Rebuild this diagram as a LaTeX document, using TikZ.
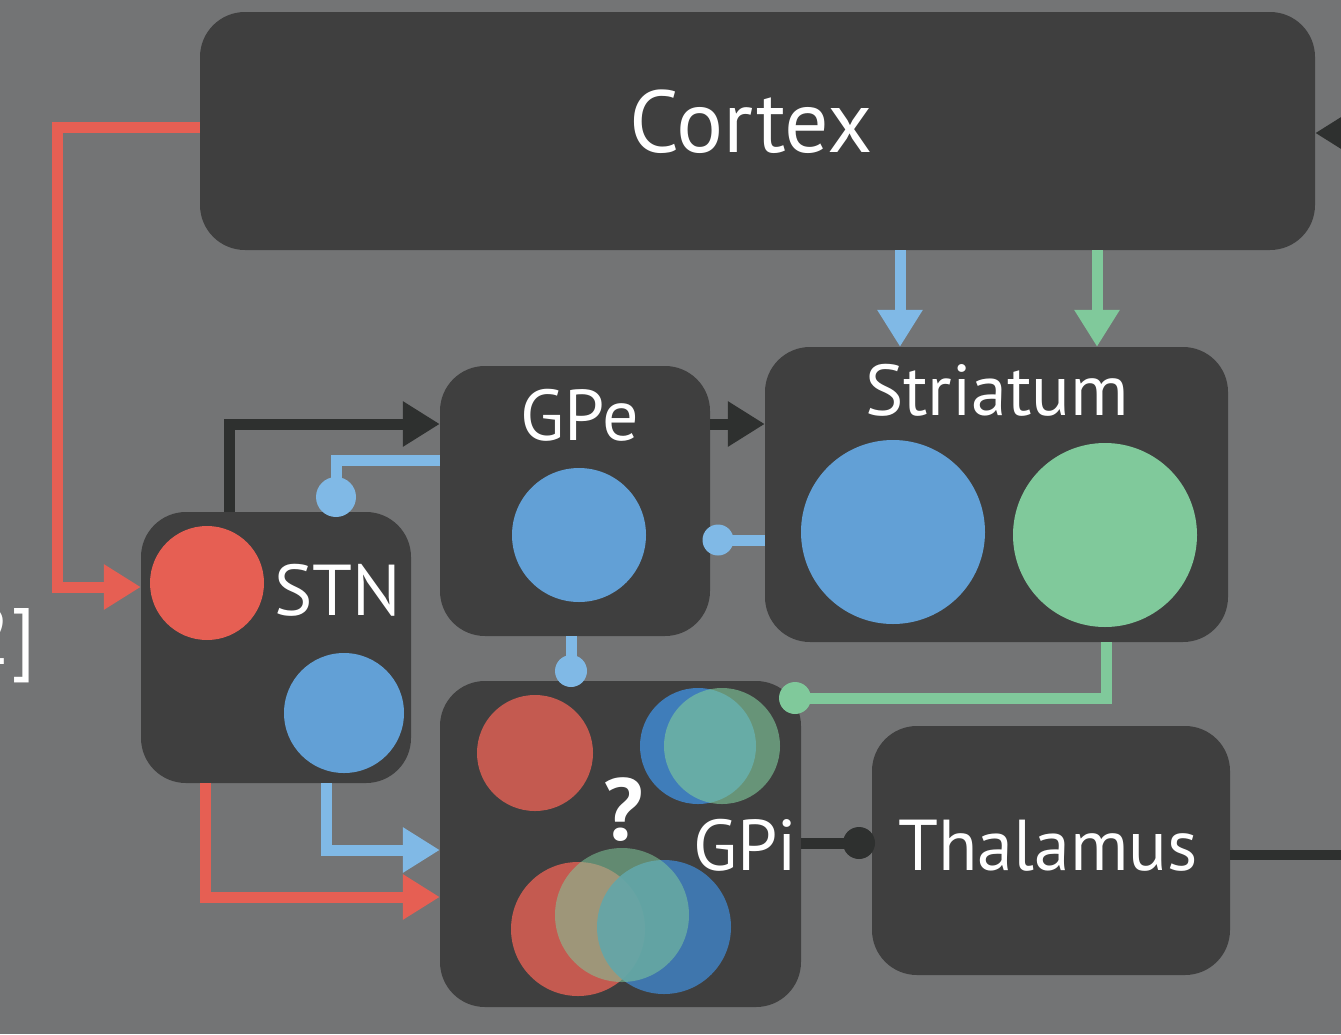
\documentclass[tikz,border=0pt]{standalone}
\usepackage{fontspec}
\setmainfont{PT Sans}
\usetikzlibrary{arrows.meta}

\definecolor{bgc}{HTML}{737475}
\definecolor{boxc}{HTML}{3F3F3F}
\definecolor{redc}{HTML}{E65F53}
\definecolor{bluec}{HTML}{62A0D6}
\definecolor{greenc}{HTML}{80C99B}
\definecolor{lblue}{HTML}{80B9E6}
\definecolor{darkc}{HTML}{2E302F}
\definecolor{gpired}{HTML}{C45A50}
\definecolor{gpiblue}{HTML}{3F7DBA}

\begin{document}
\begin{tikzpicture}[x=1pt,y=-1pt,
  box/.style={fill=boxc, rounded corners=45pt, inner sep=0pt, draw=none},
  cell/.style={circle, inner sep=0pt, draw=none},
  lab/.style={text=white, font=\fontsize{72}{72}\selectfont, anchor=base, inner sep=0pt},
  exc/.style={line width=11pt, -{Triangle[length=37pt,width=43pt]}},
  inh/.style={line width=11pt},
  dot/.style={circle, inner sep=0pt, draw=none}]

% background and page size
\fill[bgc] (0,0) rectangle (1341,1034);
\useasboundingbox (0,0) rectangle (1341,1034);

% reference label cut by the left edge
\node[text=white, font=\fontsize{80}{80}\selectfont, anchor=base east, inner sep=0pt] (ref) at (36,664) {[2]};

% regions
\node[box, minimum width=1115pt, minimum height=238pt] (cortex) at (757.5,131) {};
\node[box, minimum width=463pt, minimum height=295pt] (striatum) at (996.5,494.5) {};
\node[box, minimum width=270pt, minimum height=270pt] (gpe) at (575,501) {};
\node[box, minimum width=270pt, minimum height=271pt] (stn) at (276,647.5) {};
\node[box, minimum width=361pt, minimum height=326pt] (gpi) at (620.5,844) {};
\node[box, minimum width=358pt, minimum height=249pt] (thal) at (1051,850.5) {};

% labels
\node[lab, font=\fontsize{88}{88}\selectfont] (cortexlab) at (751,152) {Cortex};
\node[lab] (striatumlab) at (997,415) {Striatum};
\node[lab] (gpelab) at (580,440) {GPe};
\node[lab] (stnlab) at (338,615) {STN};
\node[lab] (gpilab) at (745,870) {GPi};
\node[lab] (thallab) at (1048,870) {Thalamus};
\node[lab, font=\fontsize{88}{88}\selectfont\bfseries] (qmark) at (623,840) {?};

% neuron populations
\node[cell, fill=bluec, minimum size=184pt] (strblue) at (893,532) {};
\node[cell, fill=greenc, minimum size=184pt] (strgreen) at (1105,535) {};
\node[cell, fill=bluec, minimum size=134pt] (gpeblue) at (579,535) {};
\node[cell, fill=redc, minimum size=114pt] (stnred) at (207,583) {};
\node[cell, fill=bluec, minimum size=120pt] (stnblue) at (344,713) {};

% GPi populations (overlapping)
\node[cell, fill=gpired, minimum size=116pt] (gpiredA) at (535,753) {};
\node[cell, fill=gpiblue, minimum size=116pt] (gpiblueA) at (698,746) {};
\node[cell, fill=greenc, fill opacity=0.62, minimum size=116pt] (gpigreenA) at (722,746) {};
\node[cell, fill=gpired, minimum size=134pt] (gpiredB) at (578,929) {};
\node[cell, fill=gpiblue, fill opacity=0.9, minimum size=134pt] (gpiblueB) at (664,927) {};
\node[cell, fill=greenc, fill opacity=0.55, minimum size=134pt] (gpigreenB) at (622,915) {};

% bend points and synapse positions
\coordinate (rTop) at (57,127);
\coordinate (rBot) at (57,587);
\coordinate (sBlue) at (900,0);
\coordinate (sGreen) at (1097,0);
\coordinate (kTop) at (229,424);
\coordinate (bTop) at (336,460);
\coordinate (gBend) at (1106,698);
\coordinate (bLow) at (326,850);
\coordinate (rLow) at (205,897);
\coordinate (tOut) at (1350,855);
\coordinate (cIn) at (1380,133);
\coordinate (pStn) at (336,497);
\coordinate (pGpe) at (718,540);
\coordinate (pGpi) at (571,671);
\coordinate (pGpiG) at (795,698);
\coordinate (pThal) at (859,843);

% connectors
\draw[exc, draw=redc] (cortex.west |- rTop) -- (rTop) -- (rBot) -- (stn.west |- rBot);
\draw[exc, draw=lblue] (cortex.south -| sBlue) -- (striatum.north -| sBlue);
\draw[exc, draw=greenc] (cortex.south -| sGreen) -- (striatum.north -| sGreen);
\draw[exc, draw=darkc] (stn.north -| kTop) |- (gpe.west |- kTop);
\draw[exc, draw=darkc] (gpe.east |- kTop) -- (striatum.west |- kTop);
\draw[inh, draw=lblue] (gpe.west |- bTop) -| (pStn);
\draw[inh, draw=lblue] (striatum.west |- pGpe) -- (pGpe);
\draw[inh, draw=lblue] (gpe.south -| pGpi) -- (pGpi);
\draw[inh, draw=greenc] (striatum.south -| gBend) |- (pGpiG);
\draw[exc, draw=lblue] (stn.south -| bLow) |- (gpi.west |- bLow);
\draw[exc, draw=redc] (stn.south -| rLow) |- (gpi.west |- rLow);
\draw[inh, draw=darkc] (gpi.east |- pThal) -- (pThal);
\draw[line width=10pt, draw=darkc] (thal.east |- tOut) -- (tOut);
\draw[exc, draw=darkc] (cIn) -- (cortex.east |- cIn);

% synapse dots on top of their lines
\node[dot, fill=lblue, minimum size=40pt] (dStn) at (pStn) {};
\node[dot, fill=lblue, minimum size=31pt] (dGpe) at (pGpe) {};
\node[dot, fill=lblue, minimum size=32pt] (dGpi) at (pGpi) {};
\node[dot, fill=greenc, minimum size=32pt] (dGpiG) at (pGpiG) {};
\node[dot, fill=darkc, minimum size=32pt] (dThal) at (pThal) {};
\end{tikzpicture}
\end{document}
